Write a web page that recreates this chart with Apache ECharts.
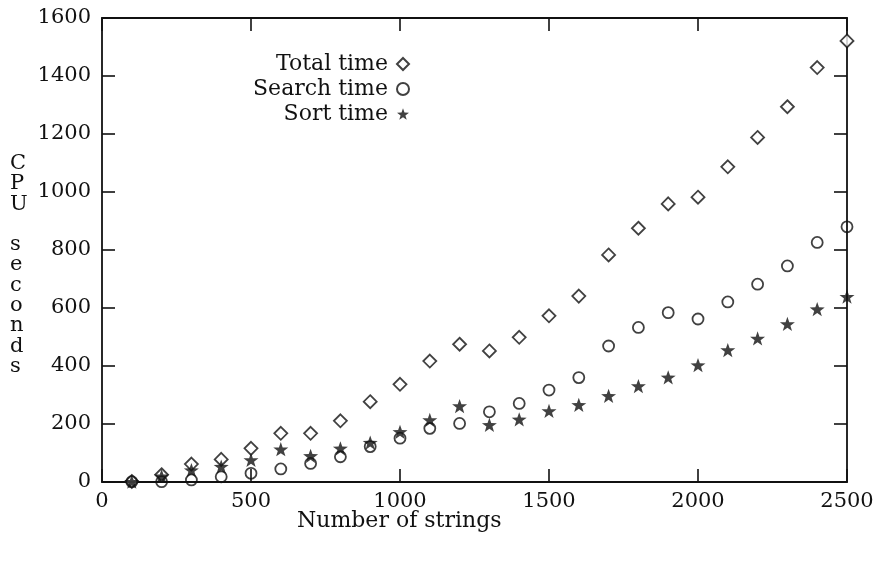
<!DOCTYPE html>
<html>
<head>
<meta charset="utf-8">
<script src="https://cdn.jsdelivr.net/npm/echarts@6/dist/echarts.min.js"></script>
<style>
  html, body { margin: 0; padding: 0; background: #ffffff; }
  #chart { width: 877px; height: 565px; }
</style>
</head>
<body>
<div id="chart"></div>
<script>
// Number of strings processed in each run
const strings = [100, 200, 300, 400, 500, 600, 700, 800, 900, 1000, 1100, 1200, 1300,
                 1400, 1500, 1600, 1700, 1800, 1900, 2000, 2100, 2200, 2300, 2400, 2500];

// CPU seconds per run
const totalTime  = [2, 25, 62, 78, 116, 168, 168, 211, 277, 337, 417, 475, 452,
                    499, 573, 641, 783, 875, 959, 982, 1087, 1188, 1294, 1429, 1521];
const searchTime = [1, 1, 7, 18, 30, 45, 64, 87, 122, 151, 185, 202, 242,
                    271, 317, 360, 469, 533, 584, 562, 621, 682, 745, 826, 880];
const sortTime   = [1, 20, 41, 53, 76, 113, 90, 116, 136, 173, 214, 262, 197,
                    216, 245, 266, 297, 331, 361, 403, 455, 495, 545, 596, 639];

// Axis ticks
const xTicks = { min: 0, max: 2500, step: 500 };
const yTicks = { min: 0, max: 1600, step: 200 };

const ink = '#111111';
const serif = '"DejaVu Serif", "Liberation Serif", serif';
const starPath = 'path://M50,0 L61.76,33.82 L97.55,34.55 L69.02,56.18 L79.39,90.45 L50,70 L20.61,90.45 L30.98,56.18 L2.45,34.55 L38.24,33.82 Z';

const pairs = (ys) => strings.map((x, i) => [x, ys[i]]);
const plain = (v) => String(v);

const chart = echarts.init(document.getElementById('chart'), null, { renderer: 'canvas' });

const boxAxisLine = { show: true, onZero: false, lineStyle: { color: ink, width: 1.8 } };
const innerTick = { show: true, inside: true, length: 13, lineStyle: { color: ink, width: 1.6 } };

chart.setOption({
  backgroundColor: '#ffffff',
  animation: false,
  textStyle: { fontFamily: serif, color: ink },
  grid: { left: 102, right: 30, top: 18, bottom: 83, containLabel: false },
  xAxis: [
    {
      type: 'value', position: 'bottom',
      min: xTicks.min, max: xTicks.max, interval: xTicks.step,
      axisLine: boxAxisLine, axisTick: innerTick, splitLine: { show: false },
      axisLabel: { color: ink, fontFamily: serif, fontSize: 21, margin: 9, formatter: plain }
    },
    {
      type: 'value', position: 'top',
      min: xTicks.min, max: xTicks.max, interval: xTicks.step,
      axisLine: boxAxisLine, axisTick: innerTick, splitLine: { show: false },
      axisLabel: { show: false }
    }
  ],
  yAxis: [
    {
      type: 'value', position: 'left',
      min: yTicks.min, max: yTicks.max, interval: yTicks.step,
      axisLine: boxAxisLine, axisTick: innerTick, splitLine: { show: false },
      axisLabel: { color: ink, fontFamily: serif, fontSize: 21, margin: 11, formatter: plain }
    },
    {
      type: 'value', position: 'right',
      min: yTicks.min, max: yTicks.max, interval: yTicks.step,
      axisLine: boxAxisLine, axisTick: innerTick, splitLine: { show: false },
      axisLabel: { show: false }
    }
  ],
  legend: {
    orient: 'vertical',
    right: 462,
    top: 48,
    align: 'right',
    itemWidth: 12,
    itemHeight: 12,
    itemGap: 3,
    textStyle: { fontFamily: serif, fontSize: 22, color: ink, padding: [0, 4, 0, 0] },
    data: ['Total time', 'Search time', 'Sort time']
  },
  series: [
    {
      name: 'Total time', type: 'scatter', data: pairs(totalTime),
      symbol: 'diamond', symbolSize: [13, 13],
      itemStyle: { color: '#ffffff', borderColor: ink, borderWidth: 1.8 }
    },
    {
      name: 'Search time', type: 'scatter', data: pairs(searchTime),
      symbol: 'circle', symbolSize: 11,
      itemStyle: { color: 'rgba(255,255,255,0)', borderColor: ink, borderWidth: 1.8 }
    },
    {
      name: 'Sort time', type: 'scatter', data: pairs(sortTime),
      symbol: starPath, symbolSize: 15, symbolKeepAspect: true,
      itemStyle: { color: ink, borderWidth: 0 }
    }
  ],
  graphic: [
    {
      type: 'text', left: 297, top: 510,
      style: { text: 'Number of strings', font: '22px ' + serif, fill: ink }
    },
    {
      type: 'text', left: 10, top: 153,
      style: {
        text: 'C\nP\nU\n\ns\ne\nc\no\nn\nd\ns',
        font: '21px ' + serif, fill: ink, lineHeight: 20.3, align: 'left'
      }
    }
  ]
});
</script>
</body>
</html>
